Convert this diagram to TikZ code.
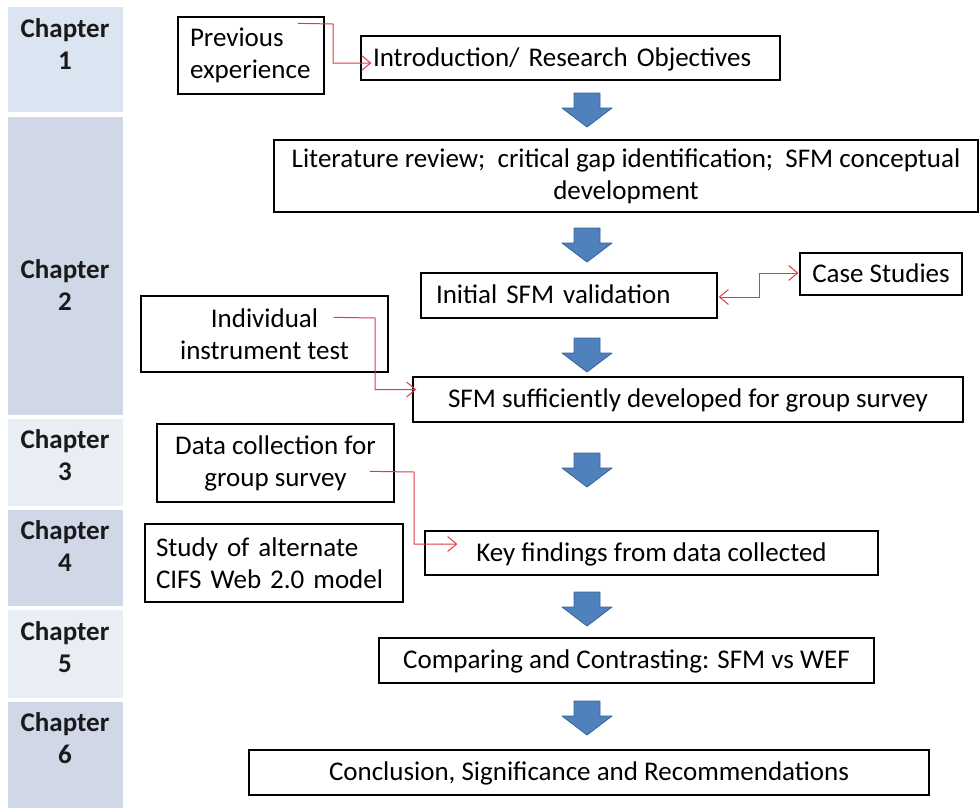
\documentclass[tikz,border=0pt]{standalone}
\usepackage{fontspec}
\setmainfont{Carlito}
\usetikzlibrary{arrows.meta,calc}
\definecolor{chA}{HTML}{DBE5F1}
\definecolor{chB}{HTML}{D0D8E8}
\definecolor{chC}{HTML}{E9EDF4}
\definecolor{arrfill}{HTML}{4F81BD}
\definecolor{arrline}{HTML}{3A6298}
\definecolor{redline}{HTML}{E23B44}
\definecolor{chapink}{HTML}{1A1A1A}
\tikzset{
  txt/.style={font=\fontsize{27}{32}\selectfont},
  chaptext/.style={font=\fontsize{27}{32}\selectfont\bfseries, text=chapink, align=center, inner sep=0},
  box/.style={txt, draw=black, line width=1.3pt, inner ysep=0, inner xsep=12pt},
  onebox/.style={box, text depth=0.25em},
  redtip/.style={},
  redarrow/.style={draw=redline, line width=1pt, -{Straight Barb[length=9pt,width=15pt]}},
  redboth/.style={draw=redline, line width=1pt, {Straight Barb[length=9pt,width=15pt]}-{Straight Barb[length=9pt,width=15pt]}},
  bluearrow/.style={fill=arrfill, draw=arrline, line width=0.8pt, line join=round}
}
\newcommand{\bluedown}[2]{%
  \draw[bluearrow] (#1-13,#2) -- (#1+13,#2) -- (#1+13,#2+15) -- (#1+25,#2+15) -- (#1,#2+34) -- (#1-25,#2+15) -- (#1-13,#2+15) -- cycle;}
\begin{document}
\begin{tikzpicture}[x=1pt,y=-1pt]
\useasboundingbox (0,0) rectangle (980,809);
% chapter column
\fill[chA] (8,7) rectangle (123,112);
\fill[chB] (8,117) rectangle (123,415);
\fill[chC] (8,419) rectangle (123,506);
\fill[chB] (8,510) rectangle (123,606);
\fill[chC] (8,610) rectangle (123,698);
\fill[chB] (8,702) rectangle (123,808);
\node[chaptext] (c1) at (65,44) {Chapter\\1};
\node[chaptext] (c2) at (65,285) {Chapter\\2};
\node[chaptext] (c3) at (65,455) {Chapter\\3};
\node[chaptext] (c4) at (65,546) {Chapter\\4};
\node[chaptext] (c5) at (65,647) {Chapter\\5};
\node[chaptext] (c6) at (65,738) {Chapter\\6};

% boxes
\node[box, minimum width=146, minimum height=77, text width=122, align=left] (prev) at (251,55.5) {Previous\\experience};
\node[onebox, minimum width=419, minimum height=44, text width=395, align=left] (intro) at (570.5,58) {Introduction/ Research Objectives};
\node[box, minimum width=704, minimum height=72, align=center] (lit) at (626,176) {Literature review;\ \ critical gap identification;\ \ SFM conceptual\\development};
\node[onebox, minimum width=296, minimum height=45, text width=266, inner xsep=15pt, align=left] (init) at (569,295.5) {Initial SFM validation};
\node[onebox, minimum width=162, minimum height=42, align=center] (case) at (881,274) {Case Studies};
\node[box, minimum width=247, minimum height=76, align=center] (indiv) at (264.5,334) {Individual\\instrument test};
\node[onebox, minimum width=550, minimum height=45, align=center] (sfm) at (688,399.5) {SFM sufficiently developed for group survey};
\node[box, minimum width=237, minimum height=78, align=center] (data) at (275.5,463) {Data collection for\\group survey};
\node[box, minimum width=258, minimum height=78, text width=236, inner xsep=11pt, align=left] (study) at (274,563) {Study of alternate\\CIFS Web 2.0 model};
\node[onebox, minimum width=453, minimum height=44, align=center] (key) at (651.5,553) {Key findings from data collected};
\node[onebox, minimum width=495, minimum height=45, align=center] (comp) at (626.5,660.5) {Comparing and Contrasting: SFM vs WEF};
\node[onebox, minimum width=680, minimum height=45, align=center] (concl) at (589,772.5) {Conclusion, Significance and Recommendations};

% blue arrows
\bluedown{587}{93}
\bluedown{587}{228}
\bluedown{587}{338}
\bluedown{587}{453}
\bluedown{587}{592}
\bluedown{587}{701}

% red connectors
\coordinate (p1) at ($(prev.north east)+(-27,7)$);
\coordinate (p2) at ($(intro.west)+(11,5)$);
\draw[redarrow] (p1) -- (333,24) |- (p2);
\coordinate (q1) at ($(init.east)+(1,1.5)$);
\coordinate (q2) at ($(case.west)+(-1,-1)$);
\draw[redboth] (q1) -- (759,297) |- (q2);
\coordinate (r1) at ($(indiv.north east)+(-55,22)$);
\coordinate (r2) at ($(sfm.west)+(4,-10)$);
\draw[redarrow] (r1) -- (375,318) |- (r2);
\coordinate (s1) at ($(data.north east)+(-25,48)$);
\coordinate (s2) at ($(key.west)+(33,-9)$);
\draw[redarrow] (s1) -- (414,472) |- (s2);
\end{tikzpicture}
\end{document}
